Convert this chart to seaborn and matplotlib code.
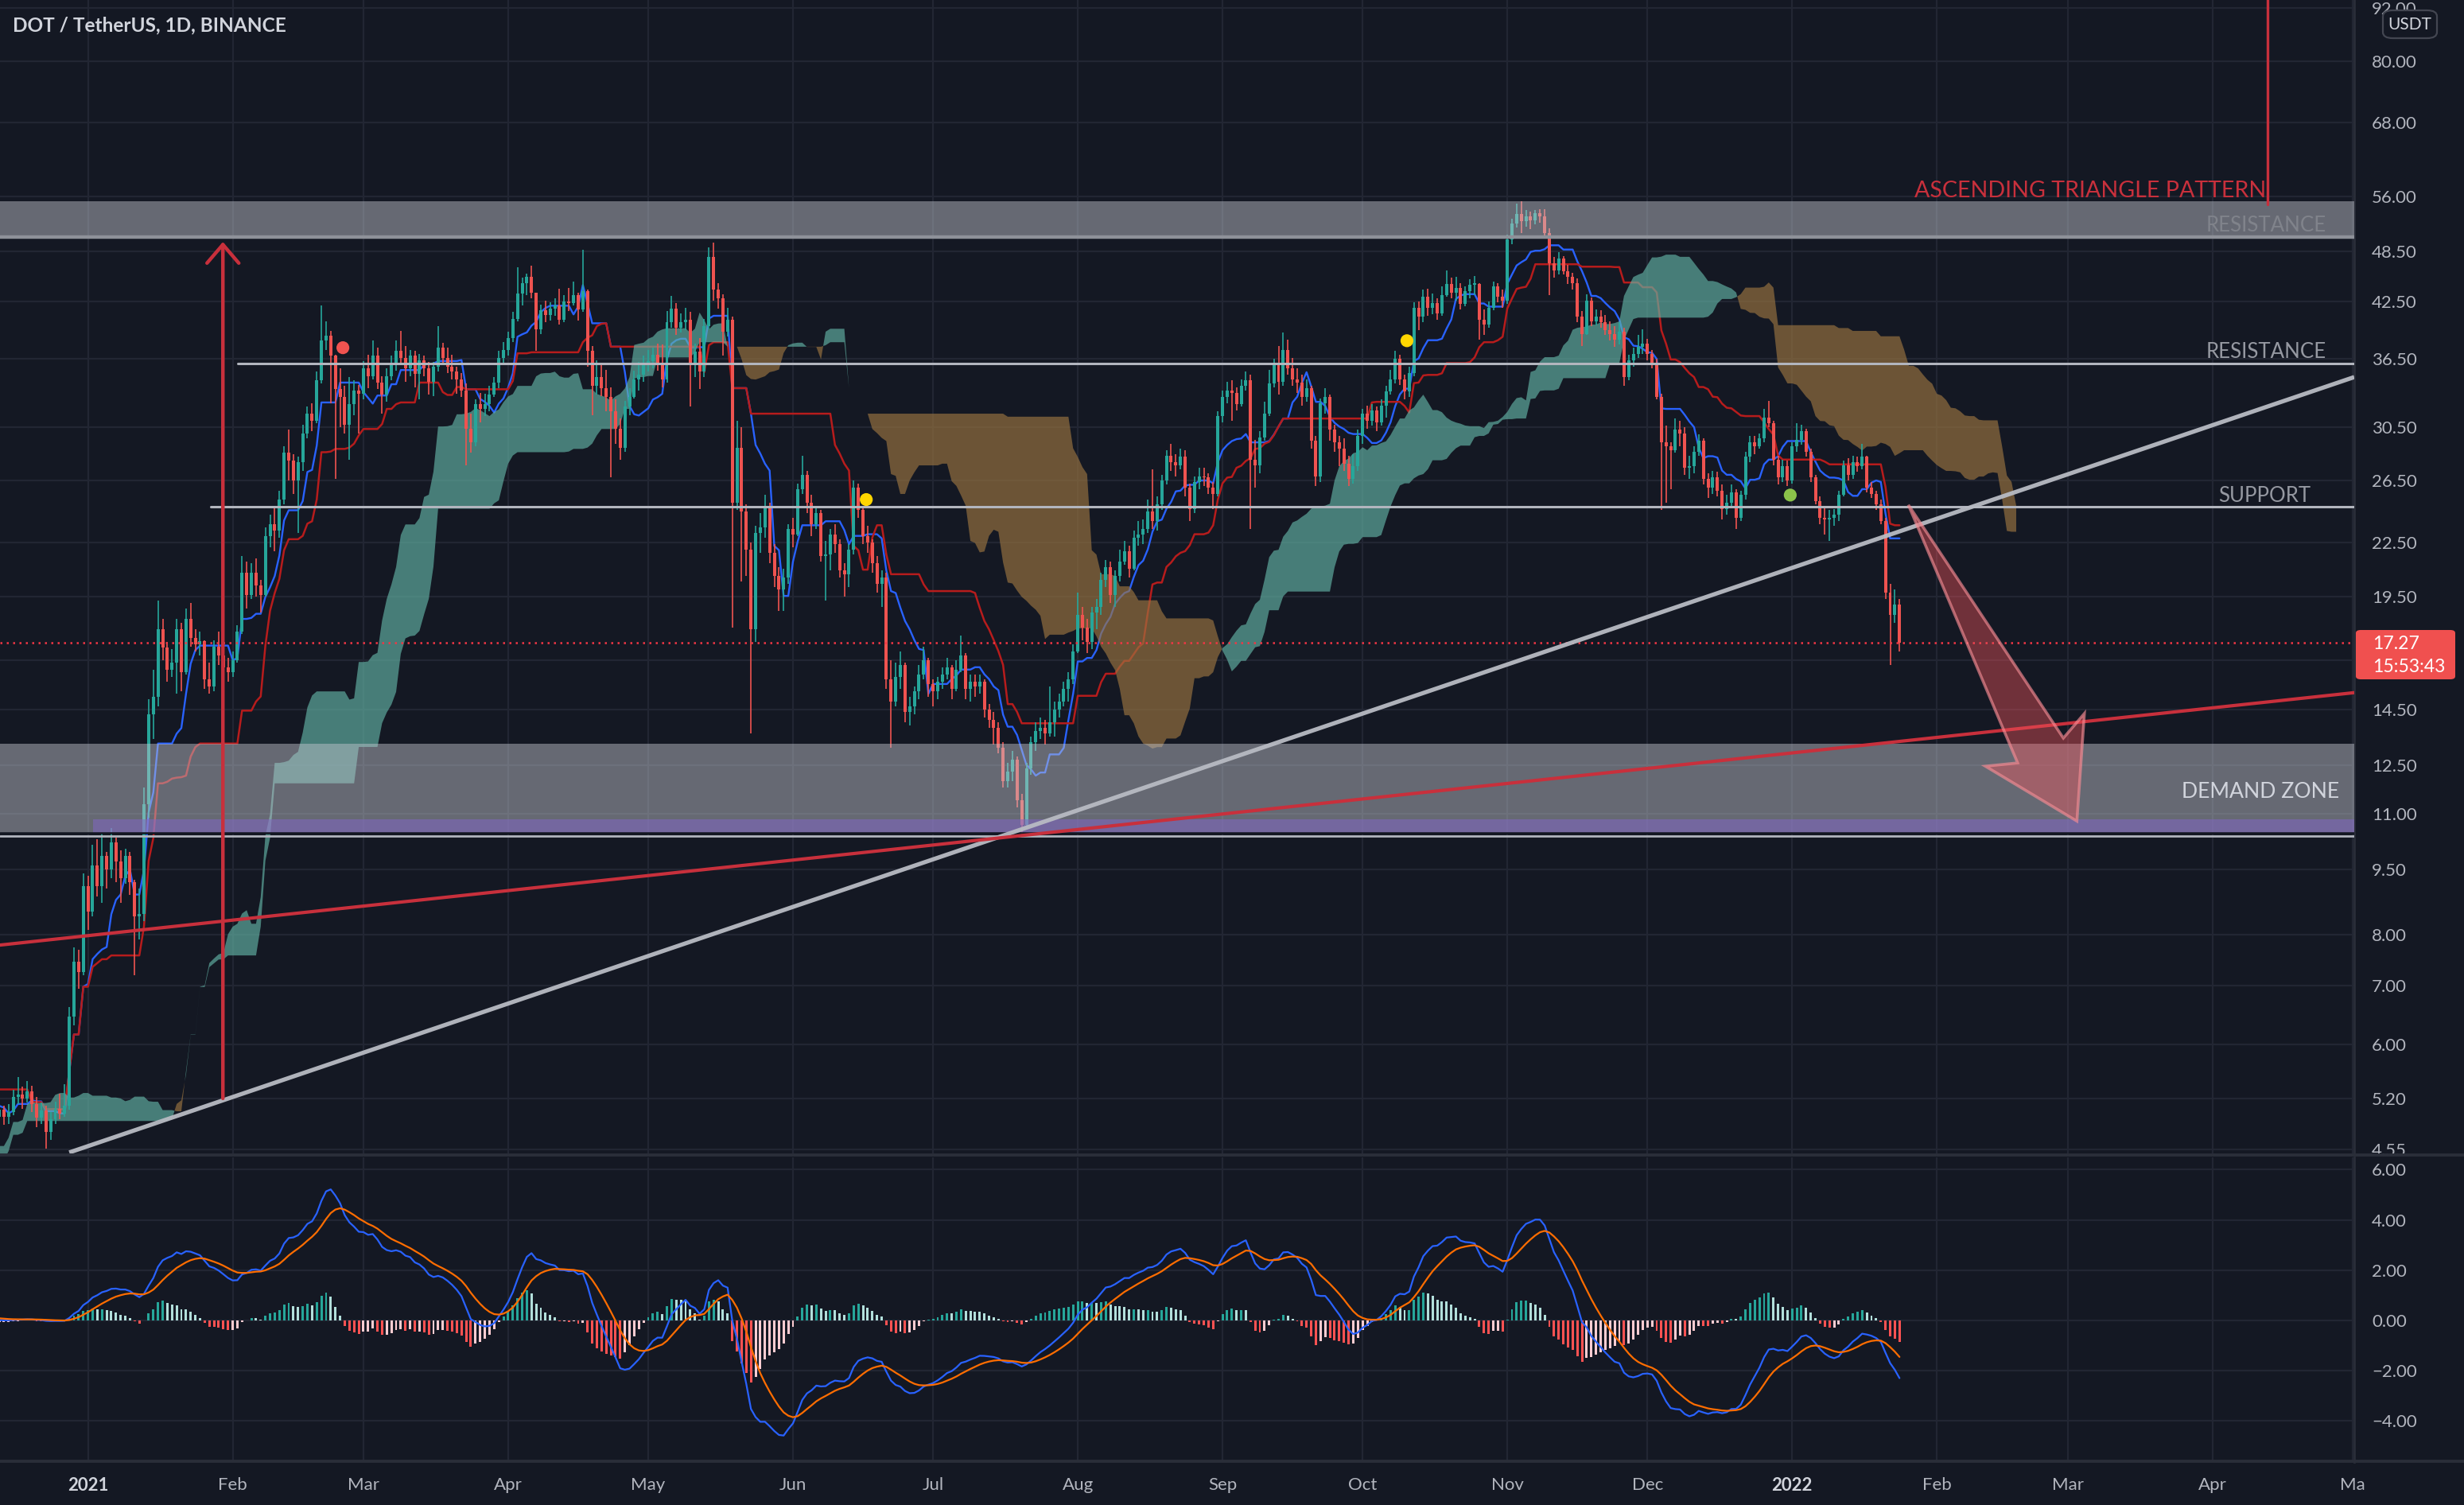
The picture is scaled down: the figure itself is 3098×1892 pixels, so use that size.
import numpy as np
import pandas as pd
import matplotlib
matplotlib.use("Agg")
import matplotlib.pyplot as plt
import seaborn as sns
from matplotlib.patches import Polygon, FancyBboxPatch
from matplotlib.lines import Line2D
from matplotlib.ticker import NullLocator

# ------------------------------------------------------------------ data
# x positions are day offsets counted from 2021-01-01; first candle = 2020-12-13
FIRST_DAY = -19

# daily closes 2020-09-22 .. 2020-12-12 (only feed the indicators, off-screen)
pre_close = [4.60, 4.25, 4.55, 4.55, 4.50, 4.45, 4.40, 4.45, 4.35,
             4.25, 4.05, 4.10, 4.20, 4.15, 4.00, 4.05, 4.15, 4.25, 4.35, 4.40, 4.45, 4.35, 4.25, 4.20, 4.05,
             4.05, 4.15, 4.10, 4.00, 4.20, 4.35, 4.25, 4.30, 4.20, 4.05, 4.10, 3.95, 4.00, 4.05, 4.10,
             4.10, 3.95, 3.90, 3.95, 4.35, 4.65, 4.45, 4.60, 4.60, 4.65, 4.70, 4.60, 4.75, 4.60, 4.55,
             4.80, 4.90, 4.95, 4.90, 5.15, 5.55, 5.40, 5.60, 5.90, 5.40, 4.85, 4.95, 5.10, 5.15, 5.40,
             5.10, 5.25, 5.55, 5.20, 5.45, 5.40, 5.25, 4.95, 5.05, 4.95, 4.75, 4.95]

close = [
    # Dec 2020 (13..31)
    5.05, 4.95, 5.02, 5.22, 5.25, 5.20, 5.30, 5.12, 4.94, 5.04, 4.76, 4.92, 5.06, 5.00, 5.10, 6.45, 7.45, 7.25, 9.10,
    # Jan 2021
    8.50, 9.60, 9.10, 9.85, 9.50, 10.20, 9.70, 9.30, 9.85, 9.20, 8.40, 8.45, 11.30, 14.30, 15.00, 17.90,
    17.05, 16.10, 16.40, 17.90, 16.00, 18.40, 17.50, 17.20, 17.35, 15.70, 15.40, 17.10, 16.70, 16.20, 16.00,
    # Feb
    16.50, 17.80, 20.80, 19.60, 20.80, 20.10, 19.60, 22.90, 23.60, 23.20, 25.20, 28.50, 27.90, 26.50,
    27.80, 30.00, 31.60, 31.00, 34.50, 38.30, 38.80, 36.80, 33.70, 33.00, 30.70, 32.40, 33.60, 33.30,
    # Mar
    35.60, 34.90, 36.80, 34.30, 33.20, 34.90, 36.00, 37.30, 36.60, 35.60, 36.80, 35.10, 36.40, 35.60, 34.40,
    35.80, 37.60, 36.60, 35.80, 35.30, 34.60, 33.60, 30.40, 29.30, 32.40, 32.00, 32.40, 33.20, 34.30, 36.60, 37.40,
    # Apr
    38.60, 40.60, 43.40, 44.60, 45.30, 43.50, 39.50, 41.50, 41.00, 41.70, 42.00, 40.50, 42.50, 42.30, 43.20,
    41.60, 43.60, 37.30, 34.00, 34.80, 33.80, 33.00, 31.80, 30.40, 28.90, 32.20, 33.00, 34.60, 35.00, 36.00,
    # May
    36.30, 36.90, 36.00, 34.60, 40.20, 41.70, 39.60, 40.20, 40.50, 36.00, 37.20, 35.30, 39.80, 47.80, 43.80,
    42.80, 39.20, 40.50, 25.00, 28.90, 24.40, 22.10, 17.90, 23.10, 23.40, 24.70, 21.90, 20.60, 19.90, 20.50, 23.30,
    # Jun
    23.00, 25.90, 26.90, 25.00, 23.60, 24.30, 21.70, 21.80, 23.00, 22.40, 20.90, 20.70, 22.10, 26.00, 24.50,
    22.90, 22.50, 21.30, 20.20, 20.50, 15.70, 14.80, 15.80, 16.30, 14.40, 14.60, 15.20, 15.90, 16.50, 15.50,
    # Jul
    15.20, 15.60, 15.90, 16.20, 15.30, 16.10, 16.70, 15.30, 15.60, 15.40, 15.60, 14.50, 14.10, 13.80, 13.10,
    12.00, 12.30, 12.70, 11.40, 10.70, 12.40, 13.30, 13.70, 13.80, 13.60, 14.00, 14.50, 14.80, 15.30, 15.70, 16.90,
    # Aug
    18.60, 18.00, 17.30, 18.70, 19.00, 20.40, 21.10, 19.60, 20.60, 21.40, 22.00, 21.00, 22.80, 23.00, 23.30,
    24.40, 23.80, 24.90, 26.50, 28.30, 27.80, 27.60, 28.20, 26.00, 24.60, 26.40, 26.80, 26.70, 26.00, 25.60, 31.40,
    # Sep
    33.00, 33.60, 33.40, 32.40, 34.00, 34.50, 28.00, 27.60, 29.70, 31.60, 34.20, 35.90, 34.40, 37.40, 35.60,
    34.60, 34.30, 33.00, 33.80, 29.40, 26.80, 32.50, 33.00, 30.30, 29.30, 28.80, 27.70, 26.60, 27.50, 29.80,
    # Oct
    31.60, 31.00, 31.90, 30.90, 32.30, 33.50, 34.60, 36.50, 34.60, 33.50, 35.20, 41.80, 40.80, 43.00, 41.80,
    42.30, 41.20, 43.20, 44.50, 43.50, 44.00, 42.20, 43.60, 44.40, 44.50, 40.50, 40.00, 41.80, 44.20, 43.00, 42.60,
    # Nov
    50.00, 52.20, 53.50, 52.50, 53.10, 52.60, 53.60, 53.20, 50.90, 47.00, 46.10, 47.60, 46.00, 45.30, 44.60,
    40.80, 39.00, 42.60, 40.30, 40.80, 40.20, 39.40, 39.00, 38.40, 39.20, 34.80, 36.40, 37.00, 37.70, 38.00,
    # Dec
    37.00, 36.10, 33.00, 29.30, 29.00, 28.70, 30.30, 30.00, 27.40, 27.50, 28.60, 29.40, 26.60, 26.00, 26.70,
    25.80, 24.60, 25.00, 25.70, 24.00, 25.50, 28.20, 29.30, 29.00, 29.60, 31.30, 30.80, 28.00, 26.70, 27.50, 26.50,
    # Jan 2022 (1..24)
    29.00, 29.50, 30.20, 28.60, 26.70, 25.10, 24.00, 23.90, 24.00, 24.20, 25.50, 27.60, 26.90, 27.80, 27.50,
    28.20, 26.00, 25.60, 24.90, 23.80, 19.70, 18.60, 19.10, 17.27,
]

high = [
    5.15, 5.10, 5.12, 5.32, 5.50, 5.36, 5.44, 5.38, 5.22, 5.14, 5.10, 5.02, 5.16, 5.26, 5.40, 6.62, 7.75, 7.70, 9.40,
    9.35, 10.15, 10.30, 10.45, 9.95, 10.60, 10.35, 10.00, 10.05, 9.95, 9.25, 9.05, 11.80, 14.90, 16.10, 19.30,
    18.40, 17.30, 17.00, 18.40, 18.20, 18.90, 19.20, 17.90, 17.80, 17.40, 16.40, 17.40, 17.80, 17.10, 16.60,
    16.90, 18.10, 21.70, 21.40, 21.30, 21.60, 20.40, 23.40, 24.20, 24.80, 25.80, 29.00, 30.30, 28.40,
    28.20, 30.70, 32.20, 32.50, 35.30, 42.00, 40.30, 39.30, 36.90, 35.60, 34.00, 34.80, 34.50, 34.10,
    36.30, 36.90, 38.30, 37.60, 34.90, 35.60, 36.80, 38.30, 39.30, 37.80, 37.40, 37.30, 37.00, 36.80, 36.20,
    36.20, 39.80, 38.10, 37.60, 36.90, 35.80, 35.20, 34.20, 31.60, 32.80, 33.40, 33.30, 34.00, 34.80, 37.30, 38.20,
    39.20, 41.30, 46.50, 45.20, 45.70, 46.70, 43.40, 42.10, 42.60, 42.40, 42.80, 43.90, 43.20, 44.00, 44.80,
    43.50, 48.70, 43.80, 37.80, 36.40, 36.00, 35.50, 33.90, 32.80, 31.20, 32.70, 33.80, 35.40, 36.20, 36.80,
    37.40, 37.60, 38.00, 37.90, 41.40, 43.10, 42.30, 41.20, 41.80, 41.30, 38.00, 38.60, 40.60, 49.00, 49.60,
    44.60, 43.30, 41.80, 40.80, 31.00, 30.50, 24.90, 22.50, 23.50, 24.30, 25.50, 25.00, 22.40, 21.10, 21.00, 23.60,
    24.00, 26.30, 28.30, 27.20, 25.50, 24.80, 24.50, 22.60, 23.30, 23.60, 22.70, 21.30, 22.40, 26.50, 26.30,
    24.80, 23.50, 22.70, 21.70, 20.90, 20.80, 16.50, 16.40, 16.90, 16.40, 15.00, 15.40, 16.30, 17.10, 16.60,
    15.70, 15.80, 16.20, 16.60, 16.30, 16.50, 17.60, 16.80, 15.90, 15.90, 15.90, 15.70, 14.70, 14.40, 14.00,
    13.30, 12.60, 13.00, 12.80, 11.60, 12.60, 13.50, 14.00, 14.20, 14.10, 15.40, 14.80, 15.10, 15.60, 16.00, 17.20,
    19.70, 19.00, 18.40, 19.00, 19.40, 20.80, 21.50, 21.40, 20.90, 22.10, 22.60, 22.30, 23.20, 23.80, 23.90,
    25.20, 27.30, 25.40, 26.90, 28.70, 29.20, 28.40, 28.80, 28.70, 26.30, 26.80, 27.40, 27.40, 27.00, 26.40, 31.80,
    33.60, 34.40, 34.50, 33.90, 34.60, 35.30, 35.00, 29.50, 30.20, 32.60, 35.50, 36.50, 37.80, 39.10, 38.40,
    36.60, 35.60, 35.00, 34.60, 34.00, 29.80, 32.90, 33.80, 33.20, 30.70, 29.80, 29.60, 28.30, 28.40, 30.30,
    32.00, 32.30, 32.40, 32.20, 32.80, 34.00, 35.50, 37.30, 36.90, 35.00, 35.80, 42.40, 42.50, 43.80, 43.90,
    43.40, 42.80, 44.20, 46.10, 45.20, 45.30, 44.60, 44.20, 45.00, 45.40, 44.60, 41.60, 42.50, 44.80, 44.60, 43.80,
    50.60, 52.80, 55.00, 55.30, 54.00, 53.80, 54.10, 54.20, 54.20, 51.50, 47.80, 48.40, 47.90, 46.80, 45.80,
    45.10, 41.40, 43.30, 42.90, 41.60, 41.50, 41.00, 40.30, 39.80, 40.20, 39.60, 36.90, 37.60, 38.90, 39.50,
    38.50, 37.40, 36.50, 33.30, 30.60, 29.30, 31.20, 31.00, 30.50, 28.30, 29.00, 29.90, 29.60, 27.00, 27.20,
    27.10, 26.20, 25.50, 26.20, 25.90, 25.80, 28.60, 29.80, 29.80, 30.00, 32.00, 32.70, 31.00, 28.30, 28.00, 27.90,
    29.30, 30.80, 30.70, 30.40, 28.80, 26.90, 25.40, 24.70, 24.50, 24.60, 25.80, 27.90, 28.10, 28.30, 28.20,
    29.20, 28.30, 26.40, 25.80, 25.20, 24.00, 20.20, 19.90, 19.40,
]

low = [
    4.88, 4.85, 4.86, 4.98, 5.12, 5.06, 5.14, 5.02, 4.82, 4.86, 4.56, 4.66, 4.86, 4.92, 4.95, 5.05, 6.30, 6.95, 7.20,
    8.10, 8.40, 8.85, 8.70, 9.05, 9.30, 9.20, 8.70, 9.15, 8.90, 7.20, 7.90, 8.30, 10.90, 13.40, 14.60,
    16.50, 15.60, 15.80, 15.10, 15.20, 15.90, 17.10, 16.90, 16.70, 15.30, 15.10, 15.20, 16.30, 15.90, 15.60,
    15.80, 16.40, 17.70, 18.90, 19.40, 19.50, 18.70, 19.50, 22.20, 22.00, 22.80, 24.90, 26.50, 25.60,
    23.10, 27.20, 29.60, 30.20, 30.80, 34.20, 37.40, 32.50, 26.60, 30.50, 30.00, 28.00, 31.50, 30.00,
    32.80, 33.80, 34.60, 33.70, 31.60, 32.60, 34.50, 35.40, 36.00, 34.40, 34.90, 33.90, 32.80, 34.90, 33.20,
    33.10, 35.30, 36.00, 35.20, 34.60, 33.30, 33.00, 27.60, 28.50, 29.00, 30.90, 31.40, 31.80, 33.00, 33.80, 35.90,
    36.80, 38.20, 40.30, 42.00, 43.20, 42.80, 37.30, 39.00, 40.20, 40.40, 40.90, 40.00, 40.20, 41.40, 42.00,
    40.40, 41.30, 35.80, 31.50, 33.20, 33.10, 31.80, 26.70, 29.20, 28.00, 28.60, 31.50, 32.90, 33.60, 34.40,
    35.30, 35.60, 35.40, 33.90, 34.30, 39.60, 38.90, 39.10, 39.40, 32.20, 34.80, 33.70, 34.80, 39.50, 42.60,
    41.70, 36.80, 38.70, 18.00, 24.50, 20.30, 20.60, 13.60, 17.30, 21.90, 22.80, 21.30, 20.00, 18.80, 18.80, 20.20,
    22.20, 22.90, 25.60, 24.30, 22.90, 23.30, 21.40, 19.30, 20.90, 21.90, 20.50, 19.50, 20.00, 21.80, 24.00,
    22.40, 21.90, 20.80, 19.70, 19.00, 15.30, 13.10, 14.60, 15.30, 14.00, 13.90, 14.30, 14.90, 15.70, 15.00,
    14.60, 14.90, 15.30, 15.70, 14.90, 15.20, 16.00, 14.90, 14.80, 15.00, 15.10, 14.20, 13.80, 13.20, 12.90,
    11.80, 11.80, 12.00, 11.20, 10.35, 10.60, 12.20, 13.00, 13.40, 13.20, 13.50, 13.50, 14.20, 14.60, 14.80, 15.50,
    16.80, 17.40, 16.80, 17.00, 17.90, 18.60, 20.00, 19.20, 19.00, 20.30, 21.20, 20.50, 20.90, 22.30, 22.40,
    23.10, 23.30, 23.20, 24.50, 26.20, 27.20, 26.80, 27.30, 25.40, 23.80, 24.30, 25.90, 26.10, 25.60, 24.60, 25.40,
    30.90, 32.50, 31.00, 31.90, 32.20, 33.60, 23.30, 26.00, 27.00, 29.40, 31.40, 33.90, 33.20, 34.00, 35.00,
    34.00, 33.40, 32.30, 32.60, 28.80, 26.10, 26.40, 31.60, 29.40, 28.60, 27.50, 27.20, 26.10, 26.30, 27.20,
    29.20, 30.40, 30.60, 30.20, 30.60, 31.30, 33.20, 34.20, 34.10, 32.80, 33.00, 34.90, 39.40, 40.20, 40.90,
    41.10, 40.50, 40.90, 43.00, 42.80, 42.60, 41.60, 41.90, 42.80, 43.20, 38.40, 38.90, 39.60, 41.50, 42.40, 41.80,
    42.20, 49.40, 51.60, 50.90, 51.70, 51.40, 52.00, 52.30, 50.30, 43.20, 45.20, 45.60, 45.60, 44.50, 43.80,
    40.20, 37.80, 38.90, 39.80, 39.90, 39.60, 38.90, 38.30, 37.70, 37.90, 34.00, 34.50, 35.80, 36.60, 37.00,
    36.40, 35.60, 32.80, 24.50, 25.00, 25.90, 28.50, 29.00, 26.90, 26.60, 27.00, 28.30, 26.20, 25.30, 25.60,
    25.40, 23.90, 24.20, 24.80, 23.30, 23.80, 25.20, 27.80, 28.40, 28.80, 29.30, 30.50, 27.60, 26.20, 26.40, 26.10,
    26.30, 28.60, 29.10, 28.20, 26.40, 24.90, 23.60, 23.00, 22.60, 23.50, 23.80, 25.40, 26.50, 26.60, 27.10,
    27.30, 25.70, 25.30, 24.50, 23.60, 19.40, 16.30, 18.20, 16.90,
]

month_days = [0, 31, 59, 90, 120, 151, 181, 212, 243, 273, 304, 334, 365, 396, 424, 455, 485]
month_labels = ["2021", "Feb", "Mar", "Apr", "May", "Jun", "Jul", "Aug", "Sep", "Oct", "Nov", "Dec",
                "2022", "Feb", "Mar", "Apr", "Ma"]
price_ticks = [92, 80, 68, 56, 48.5, 42.5, 36.5, 30.5, 26.5, 22.5, 19.5, 16.5, 14.5, 12.5, 11, 9.5, 8, 7, 6, 5.2, 4.55]
hidden_tick = 16.5   # its label sits under the last-price badge
macd_ticks = [6, 4, 2, 0, -2, -4]

# chart drawings (day offset, price)
resistance_zone = (50.3, 55.3)
demand_zone = (10.47, 13.25)
demand_core = (10.47, 10.85)
demand_core_start = 1.1
demand_floor = 10.38
resistance_level, resistance_start = 36.1, 32.1
support_level, support_start = 24.75, 26.3
rising_line = [(-4.0, 4.51), (485.4, 34.8)]
red_line = [(-18.84, 7.79), (485.4, 15.15)]
up_arrow = [(28.9, 5.2), (28.9, 49.7)]
pattern_marker = [(466.9, 54.8), (466.9, 96.0)]
down_arrow = [(389.9, 24.85), (423.1, 13.44), (427.6, 14.34), (426.0, 10.80), (406.4, 12.48), (413.3, 12.59)]
dot_days = [54.6, 166.7, 282.5, 364.6]
dot_prices = [37.6, 25.2, 38.3, 25.5]
dot_colors = ["#f05350", "#ffd600", "#ffd600", "#8bc34a"]
last_price = 17.27
countdown = "15:53:43"

# ------------------------------------------------------------------ styling
BG = "#141823"
GRID = "#222633"
TXT = "#b2b5be"
UP, DOWN = "#26a69a", "#ef5350"
RED = "#c8303c"
LINE_GREY = "#b2b5be"

sns.set_theme(style="dark", rc={"axes.facecolor": BG, "figure.facecolor": BG})
plt.rcParams["font.family"] = ["Lato", "DejaVu Sans"]

W, H = 3098, 1892
fig = plt.figure(figsize=(W / 200, H / 200), dpi=200)
fig.patch.set_facecolor(BG)
PLOT_R = 2960 / W
ax = fig.add_axes([0, 1 - 1452 / H, PLOT_R, 1452 / H])
ax2 = fig.add_axes([0, 1 - 1838 / H, PLOT_R, (1838 - 1455) / H], sharex=ax)

XMIN, XMAX = -18.84, 485.4

# ------------------------------------------------------------------ arrays
c = np.array(close, float)
h = np.array(high, float)
l = np.array(low, float)
n = len(c)
if not (len(h) == n and len(l) == n):
    raise ValueError(f"length mismatch {len(c)} {len(h)} {len(l)}")
x = FIRST_DAY + np.arange(n)
o = np.concatenate([[pre_close[-1]], c[:-1]])
h = np.maximum(h, np.maximum(o, c))
l = np.minimum(l, np.minimum(o, c))

pc = np.array(pre_close, float)
c_all = np.concatenate([pc, c])
h_all = np.concatenate([pc, h])
l_all = np.concatenate([pc, l])
x_all = FIRST_DAY - len(pc) + np.arange(len(c_all))

hs, ls = pd.Series(h_all), pd.Series(l_all)
tenkan = ((hs.rolling(9).max() + ls.rolling(9).min()) / 2).values
kijun = ((hs.rolling(26).max() + ls.rolling(26).min()) / 2).values
spanA = (tenkan + kijun) / 2
spanB = ((hs.rolling(52).max() + ls.rolling(52).min()) / 2).values
x_lead = x_all + 25

cs = pd.Series(c_all)
macd = (cs.ewm(span=12, adjust=False).mean() - cs.ewm(span=26, adjust=False).mean()).values
signal = pd.Series(macd).ewm(span=9, adjust=False).mean().values
hist = macd - signal

# ------------------------------------------------------------------ main panel
ax.set_yscale("log")
ax.set_xlim(XMIN, XMAX)
ax.set_ylim(4.48, 94.0)
ax.set_axisbelow(True)

# ichimoku cloud
m = (x_lead >= XMIN - 2) & ~np.isnan(spanB)
xa, A, B = x_lead[m], spanA[m], spanB[m]
ax.fill_between(xa, A, B, where=A >= B, interpolate=True, color="#62b3a5", alpha=0.66, lw=0, zorder=1.5)
ax.fill_between(xa, A, B, where=A < B, interpolate=True, color="#9a7440", alpha=0.66, lw=0, zorder=1.5)

# conversion / base lines
vis = x_all >= XMIN - 1
sns.lineplot(x=x_all[vis], y=tenkan[vis], ax=ax, color="#2962ff", linewidth=0.85, zorder=1.3, estimator=None)
sns.lineplot(x=x_all[vis], y=kijun[vis], ax=ax, color="#b71c1c", linewidth=0.9, zorder=1.3, estimator=None)

# candles
col = np.where(c >= o, UP, DOWN)
ax.vlines(x, l, h, colors=col, linewidth=0.6, zorder=2)
body_lo = np.minimum(o, c)
body_h = np.maximum(np.abs(c - o), c * 0.004)
ax.bar(x, body_h, bottom=body_lo, width=0.68, color=col, linewidth=0, zorder=2.1)

# last price dotted line
ax.axhline(last_price, color="#f23645", lw=0.9, linestyle=(0, (1, 2.2)), zorder=2.5)

# zones
ax.axhspan(*resistance_zone, color="#c3c6cf", alpha=0.47, lw=0, zorder=3)
ax.axhline(resistance_zone[0], color="#8e9199", lw=1.6, zorder=3.05)
ax.axhspan(*demand_zone, color="#c3c6cf", alpha=0.47, lw=0, zorder=3)
ax.fill_between([demand_core_start, XMAX], demand_core[0], demand_core[1], color="#8066c4", alpha=0.55, lw=0, zorder=3.1)
ax.axhline(demand_zone[0], color="#131722", lw=0.9, zorder=3.2)
ax.axhline(demand_floor, color=LINE_GREY, lw=1.0, zorder=3.2)

# horizontal levels
ax.plot([resistance_start, XMAX], [resistance_level] * 2, color=LINE_GREY, lw=1.1, zorder=3.5)
ax.plot([support_start, XMAX], [support_level] * 2, color=LINE_GREY, lw=1.1, zorder=3.5)

# trend lines
ax.plot(*zip(*rising_line), color="#b8bbc3", lw=1.9, alpha=0.95, zorder=4, solid_capstyle="butt")
ax.plot(*zip(*red_line), color=RED, lw=1.5, zorder=4)

# vertical measure arrow and marker
ax.annotate("", xy=up_arrow[1], xytext=up_arrow[0],
            arrowprops=dict(arrowstyle="->,head_length=0.42,head_width=0.36", color=RED, lw=1.6,
                            shrinkA=0, shrinkB=0, mutation_scale=20), zorder=4.2)
ax.plot(*zip(*pattern_marker), color=RED, lw=1.2, zorder=4.2)

# projected down arrow
ax.add_patch(Polygon(down_arrow, closed=True, facecolor=(0.94, 0.33, 0.36, 0.42),
                     edgecolor=(0.96, 0.55, 0.58, 0.65), lw=1.3, zorder=4.5))

# signal dots
ax.scatter(dot_days, dot_prices, s=34, c=dot_colors, zorder=5, linewidths=0)

# labels on drawings
ax.text(466.5, 56.8, "ASCENDING TRIANGLE PATTERN", color="#c8303c", fontsize=10.3,
        ha="right", va="center", zorder=6)
ax.text(479.4, 51.9, "RESISTANCE", color="#80838b", fontsize=9.3, ha="right", va="center", zorder=6)
ax.text(479.4, 37.2, "RESISTANCE", color="#9598a1", fontsize=9.3, ha="right", va="center", zorder=6)
ax.text(476.0, 25.45, "SUPPORT", color="#9598a1", fontsize=9.3, ha="right", va="center", zorder=6)
ax.text(482.2, 11.66, "DEMAND ZONE", color="#d1d4dc", fontsize=9.6, ha="right", va="center", zorder=6)

# axes styling
ax.yaxis.tick_right()
ax.set_yticks(price_ticks)
ax.set_yticklabels(["" if v == hidden_tick else f"{v:.2f}" for v in price_ticks])
ax.yaxis.set_minor_locator(NullLocator())
ax.tick_params(axis="y", length=0, pad=8, labelcolor=TXT, labelsize=8)
ax.tick_params(axis="x", length=0, labelbottom=False)
ax.set_xticks(month_days)
ax.grid(True, color=GRID, lw=0.8)
ax.set_ylabel("")
ax.set_xlabel("")

# ------------------------------------------------------------------ MACD panel
mv = x_all >= XMIN - 1
xm, hm = x_all[mv], hist[mv]
prev = np.concatenate([[hist[mv][0]], hm[:-1]])
hcol = np.where(hm >= 0, np.where(hm > prev, "#26a69a", "#b2dfdb"),
                np.where(hm < prev, "#ff5252", "#ffcdd2"))
ax2.bar(xm, hm, width=0.5, color=hcol, linewidth=0, zorder=2)
sns.lineplot(x=xm, y=macd[mv], ax=ax2, color="#2962ff", linewidth=0.8, zorder=3, estimator=None)
sns.lineplot(x=xm, y=signal[mv], ax=ax2, color="#ff6d00", linewidth=0.8, zorder=3, estimator=None)
ax2.set_xlim(XMIN, XMAX)
ax2.set_ylim(-5.63, 6.49)
ax2.set_axisbelow(True)
ax2.yaxis.tick_right()
ax2.set_yticks(macd_ticks)
ax2.set_yticklabels([f"{v:.2f}".replace("-", "\u2212") for v in macd_ticks])
ax2.tick_params(axis="y", length=0, pad=8, labelcolor=TXT, labelsize=8)
ax2.set_xticks(month_days)
ax2.set_xticklabels(month_labels)
ax2.tick_params(axis="x", length=0, pad=7, labelcolor=TXT, labelsize=8)
for lab in ax2.get_xticklabels():
    if lab.get_text() in ("2021", "2022"):
        lab.set_fontweight("bold")
        lab.set_color("#d1d4dc")
ax2.grid(True, color=GRID, lw=0.8)
ax2.set_ylabel("")
ax2.set_xlabel("")

for a in (ax, ax2):
    for s in ("top", "left", "bottom"):
        a.spines[s].set_visible(False)
    a.spines["right"].set_color("#2a2e39")
    a.spines["right"].set_linewidth(1.0)
    a.set_facecolor(BG)

# ------------------------------------------------------------------ figure-level decorations
for yy in (1452, 1837):
    fig.add_artist(Line2D([0, 1], [1 - yy / H] * 2, color="#2a2e39", lw=1.4))

fig.text(16 / W, 1 - 32 / H, "DOT / TetherUS, 1D, BINANCE", color="#d1d4dc", fontsize=8.8,
         fontweight="bold", ha="left", va="center")

box = FancyBboxPatch((2962 / W, 1 - 854 / H), (3087 - 2962) / W, (854 - 792) / H,
                     boxstyle="round,pad=0,rounding_size=0.002", transform=fig.transFigure,
                     facecolor="#f0504f", edgecolor="none")
fig.add_artist(box)
fig.text(2983 / W, 1 - 809 / H, f"{last_price:.2f}", color="white", fontsize=8.3, ha="left", va="center")
fig.text(2983 / W, 1 - 838 / H, countdown, color="white", fontsize=8.3, ha="left", va="center")

ubox = FancyBboxPatch((2996 / W, 1 - 48 / H), (3064 - 2996) / W, (48 - 13) / H,
                      boxstyle="round,pad=0,rounding_size=0.004", transform=fig.transFigure,
                      facecolor=BG, edgecolor="#434651", lw=0.8)
fig.add_artist(ubox)
fig.text(3030 / W, 1 - 31 / H, "USDT", color="#d1d4dc", fontsize=7.5, ha="center", va="center")

fig.savefig("out.png", dpi=200, facecolor=BG)
